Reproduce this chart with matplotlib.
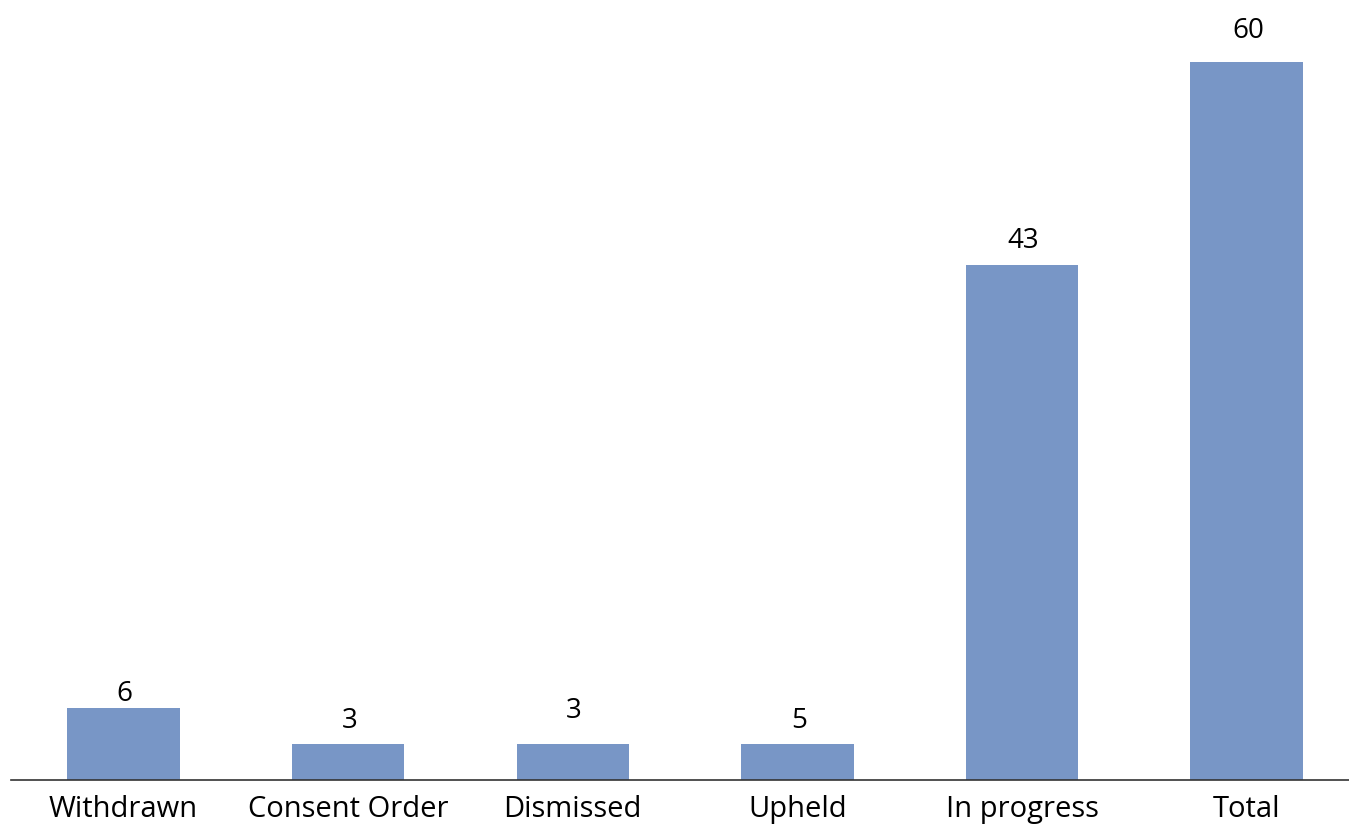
import matplotlib
matplotlib.use('Agg')
import matplotlib.pyplot as plt
import numpy as np

categories = ['Withdrawn', 'Consent Order', 'Dismissed', 'Upheld', 'In progress', 'Total']
bar_values = [6, 3, 3, 3, 43, 60]          # bar heights as drawn
value_labels = ['6', '3', '3', '5', '43', '60']  # labels as printed
label_gap = [0, 9, 19, 9, 10, 17]          # px above bar top

plt.rcParams['font.family'] = ['Open Sans', 'DejaVu Sans']

fig = plt.figure(figsize=(13.49, 8.25), dpi=100)
# baseline at y=780px, 60 units -> 718px
ax = fig.add_axes([11 / 1349, (825 - 780) / 825, 1348 / 1349, 778 / 825])

x = np.arange(len(categories))
ax.bar(x, bar_values, width=0.5, color='#7896c6')
ax.set_xlim(-0.5, 5.5)
ax.set_ylim(0, 778 / 718 * 60)

for xi, v, lab, g in zip(x, bar_values, value_labels, label_gap):
    ax.annotate(lab, (xi, v), xytext=(1, g * 0.72), textcoords='offset points',
                ha='center', va='bottom', fontsize=20, color='black')

ax.set_xticks(x)
ax.set_xticklabels(categories, fontsize=21)
ax.tick_params(axis='x', length=0, pad=11)
ax.set_yticks([])
for s in ['top', 'right', 'left']:
    ax.spines[s].set_visible(False)
ax.spines['bottom'].set_color('#333333')
ax.spines['bottom'].set_linewidth(1.2)

fig.savefig('out.png', dpi=100)
